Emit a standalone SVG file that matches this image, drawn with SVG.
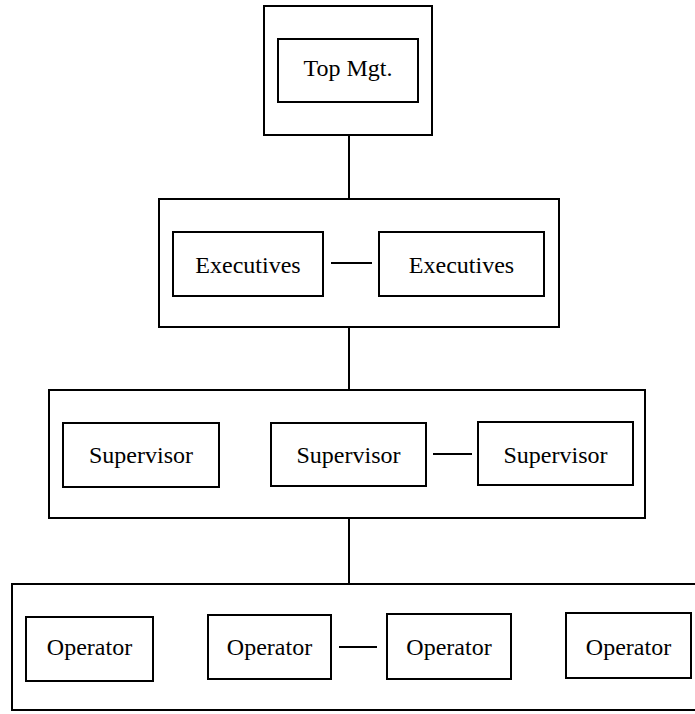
<svg xmlns="http://www.w3.org/2000/svg" width="695" height="714" viewBox="0 0 695 714">
<style>
rect{fill:none;stroke:#000;stroke-width:2}
line{stroke:#000;stroke-width:2}
text{font-family:"Liberation Serif","DejaVu Serif",serif;font-size:24px;text-anchor:middle;fill:#000}
</style>
<rect width="695" height="714" fill="#fff" stroke="none" style="fill:#fff;stroke:none"/>
<g id="group-top"><rect x="264" y="6" width="168" height="129"/></g>
<g id="node-topmgt"><rect x="278" y="39" width="140" height="63"/><text x="348" y="76">Top Mgt.</text></g>
<g id="group-exec"><rect x="159" y="199" width="400" height="128"/></g>
<g id="node-exec1"><rect x="173" y="232" width="150" height="64"/><text x="248" y="273">Executives</text></g>
<g id="node-exec2"><rect x="379" y="232" width="165" height="64"/><text x="461.5" y="273">Executives</text></g>
<g id="group-sup"><rect x="49" y="390" width="596" height="128"/></g>
<g id="node-sup1"><rect x="63" y="423" width="156" height="64"/><text x="141" y="463">Supervisor</text></g>
<g id="node-sup2"><rect x="271" y="423" width="155" height="63"/><text x="348.5" y="463">Supervisor</text></g>
<g id="node-sup3"><rect x="478" y="422" width="155" height="63"/><text x="555.5" y="463">Supervisor</text></g>
<g id="group-op"><rect x="12" y="584" width="695" height="126"/></g>
<g id="node-op1"><rect x="26" y="617" width="127" height="64"/><text x="89.5" y="655">Operator</text></g>
<g id="node-op2"><rect x="208" y="615" width="123" height="64"/><text x="269.5" y="655">Operator</text></g>
<g id="node-op3"><rect x="387" y="614" width="124" height="65"/><text x="449" y="655">Operator</text></g>
<g id="node-op4"><rect x="566" y="613" width="125" height="65"/><text x="628.5" y="655">Operator</text></g>
<g id="connectors">
<line x1="349" y1="135" x2="349" y2="199"/>
<line x1="349" y1="327" x2="349" y2="390"/>
<line x1="349" y1="518" x2="349" y2="584"/>
<line x1="331" y1="263" x2="372" y2="263"/>
<line x1="433" y1="454" x2="472" y2="454"/>
<line x1="339" y1="647" x2="377" y2="647"/>
</g>
</svg>
